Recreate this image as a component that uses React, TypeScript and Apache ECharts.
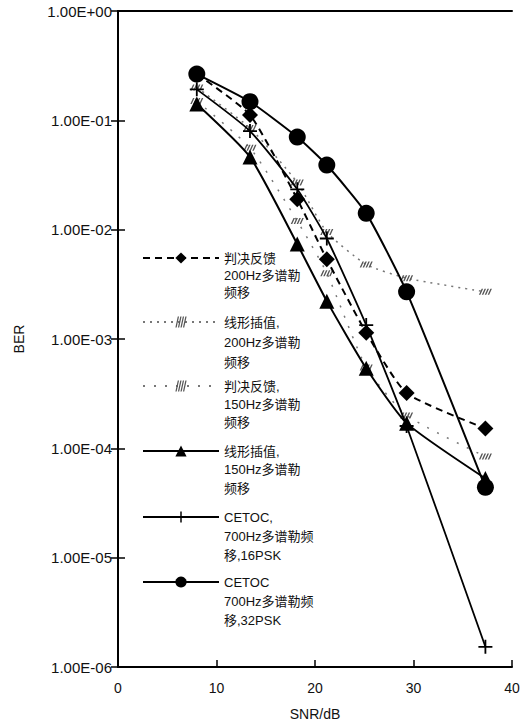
import React, { useEffect, useRef } from "react";
import * as echarts from "echarts";

const snr = [8, 13.4, 18.2, 21.2, 25.2, 29.3, 37.3];
const dfb200 = [0.265, 0.112, 0.019, 0.00535, 0.00114, 0.00032, 0.000152];
const lin200 = [0.2, 0.085, 0.027, 0.0095, 0.0048, 0.0036, 0.0027];
const dfb150 = [0.15, 0.056, 0.012, 0.004, 0.00055, 0.0002, 0.000084];
const lin150 = [0.141, 0.0462, 0.00738, 0.00222, 0.00054, 0.00017, 0.000053];
const cetoc16 = [0.192, 0.0798, 0.0234, 0.0083, 0.00134, 0.00016, 0.00000153];
const cetoc32 = [0.265, 0.148, 0.0703, 0.039, 0.0141, 0.0027, 0.000044];

const seriesNames = [
  "判决反馈\n200Hz多谱勒\n频移",
  "线形插值,\n200Hz多谱勒\n频移",
  "判决反馈,\n150Hz多谱勒\n频移",
  "线形插值,\n150Hz多谱勒\n频移",
  "CETOC,\n700Hz多谱勒频\n移,16PSK",
  "CETOC\n700Hz多谱勒频\n移,32PSK",
];

const xTicks = [0, 10, 20, 30, 40];
const yTickLabels = ["1.00E+00", "1.00E-01", "1.00E-02", "1.00E-03", "1.00E-04", "1.00E-05", "1.00E-06"];

const FONT = "'Liberation Sans', Arial, 'Noto Sans CJK SC', sans-serif";
const HATCH =
  "path://M0,6L3,0H4.6L1.6,6Z M3.2,6L6.2,0H7.8L4.8,6Z M6.4,6L9.4,0H11L8,6Z M9.6,6L12.6,0H14.2L11.2,6Z";
const CROSS = "path://M4.35,0H5.65V4.35H10V5.65H5.65V10H4.35V5.65H0V4.35H4.35Z";

export default function App() {
  const ref = useRef<HTMLDivElement>(null);
  useEffect(() => {
    if (!ref.current) return;
    const chart = echarts.init(ref.current, undefined, { renderer: "svg" });
    const values = [dfb200, lin200, dfb150, lin150, cetoc16, cetoc32];
    const styles: any[] = [
      { symbol: "diamond", symbolSize: 16, color: "#000", lineType: [7, 5], width: 2 },
      { symbol: HATCH, symbolSize: [13, 6], color: "#555", lineType: [2, 5], width: 1.5 },
      { symbol: HATCH, symbolSize: [13, 6], color: "#555", lineType: [2, 9], width: 1.5 },
      { symbol: "triangle", symbolSize: 15, color: "#000", lineType: "solid", width: 2 },
      { symbol: CROSS, symbolSize: 14, color: "#000", lineType: "solid", width: 1.8 },
      { symbol: "circle", symbolSize: 17, color: "#000", lineType: "solid", width: 2 },
    ];
    const series = values.map((vals, i) => ({
      name: seriesNames[i],
      type: "line",
      data: snr.map((x, j) => [x, vals[j]]),
      symbol: styles[i].symbol,
      symbolSize: styles[i].symbolSize,
      smooth: 0.18,
      itemStyle: { color: styles[i].color },
      lineStyle: { color: i === 1 || i === 2 ? "#777" : styles[i].color, type: styles[i].lineType, width: styles[i].width },
      z: i === 1 || i === 2 ? 2 : 3,
    }));
    const legendY = [258, 322, 386, 451, 517, 582];
    const legendLH = [17, 20, 18, 18.5, 19, 19];
    const legends = seriesNames.map((n, i) => {
      const lh = legendLH[i];
      return {
        data: [n],
        left: 142,
        top: legendY[i] - 2.5 * lh,
        orient: "vertical",
        itemWidth: 76,
        itemHeight: 14,
        itemGap: 0,
        padding: 0,
        selectedMode: false,
        formatter: (name: string) => "\n\n" + name,
        textStyle: { fontSize: 13, lineHeight: lh, color: "#111", fontFamily: FONT },
      };
    });
    const expOf = (v: number) => Math.round(-Math.log10(v));
    chart.setOption({
      animation: false,
      backgroundColor: "#fff",
      textStyle: { fontFamily: FONT },
      grid: { left: 118, right: 16, top: 11, bottom: 59, outerBoundsMode: "none", containLabel: false },
      legend: legends,
      xAxis: [
        {
          type: "value",
          min: xTicks[0],
          max: xTicks[xTicks.length - 1],
          interval: 10,
          name: "SNR/dB",
          nameLocation: "middle",
          nameGap: 40,
          nameTextStyle: { fontSize: 14, color: "#111", fontFamily: FONT },
          axisLine: { lineStyle: { color: "#000", width: 2 } },
          axisTick: { inside: true, length: 7, lineStyle: { color: "#000", width: 1.5 } },
          axisLabel: { fontSize: 14, color: "#111", margin: 14, fontFamily: FONT },
          splitLine: { show: false },
        },
        {
          type: "value",
          position: "top",
          min: 0,
          max: 40,
          interval: 10,
          axisLine: { show: true, lineStyle: { color: "#000", width: 2 } },
          axisTick: { show: false },
          axisLabel: { show: false },
          splitLine: { show: false },
        },
      ],
      yAxis: [
        {
          type: "log",
          logBase: 10,
          min: 1e-6,
          max: 1,
          name: "BER",
          nameLocation: "middle",
          nameGap: 92,
          nameTextStyle: { fontSize: 14, color: "#111", fontFamily: FONT },
          axisLine: { show: true, lineStyle: { color: "#000", width: 2 } },
          axisTick: { show: true, inside: true, length: 7, lineStyle: { color: "#000", width: 1.5 } },
          axisLabel: {
            fontSize: 15,
            color: "#111",
            margin: 6,
            fontFamily: FONT,
            formatter: (v: number) => yTickLabels[expOf(v)] ?? "",
          },
          splitLine: { show: false },
          minorTick: { show: false },
        },
        {
          type: "log",
          logBase: 10,
          min: 1e-6,
          max: 1,
          position: "right",
          axisLine: { show: true, lineStyle: { color: "#000", width: 2 } },
          axisTick: { show: true, inside: true, length: 7, lineStyle: { color: "#000", width: 1.5 } },
          axisLabel: { show: false },
          splitLine: { show: false },
        },
      ],
      series,
    });
    return () => chart.dispose();
  }, []);
  return <div ref={ref} style={{ position: "fixed", left: 0, top: 0, width: 528, height: 726 }} />;
}
